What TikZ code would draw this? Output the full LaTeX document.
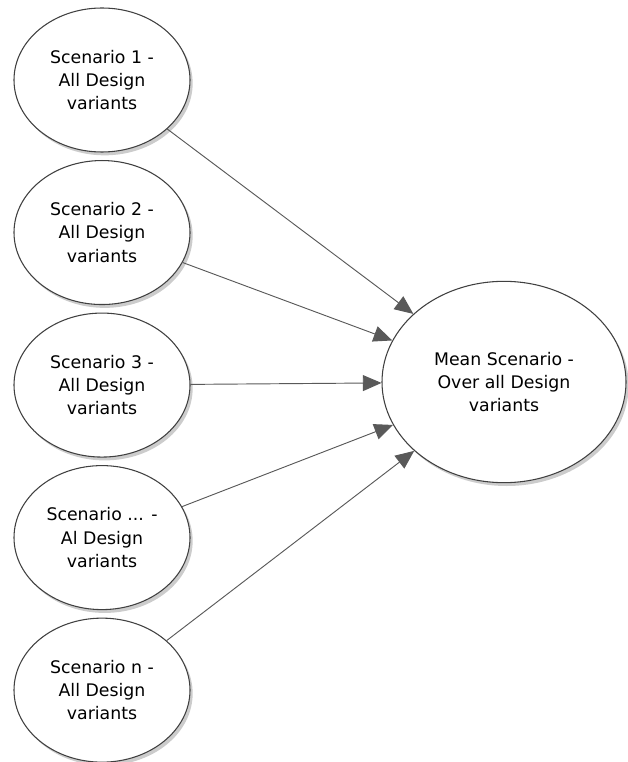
\documentclass[tikz,border=0pt]{standalone}
\usepackage{fontspec}
\setmainfont{DejaVu Sans}
\usetikzlibrary{shapes.geometric, arrows.meta, positioning, shadows}
\tikzset{
    scenario/.style={ellipse, minimum width=132pt, minimum height=108pt, inner sep=0pt, draw=black!75, line width=0.8pt, fill=white, text centered, align=center, font=\fontsize{13}{17.5}\selectfont, drop shadow={shadow xshift=2pt, shadow yshift=-2.5pt, opacity=0.4}},
    mean/.style={scenario, minimum width=183pt, minimum height=151pt},
    arrow/.style={draw=black!65, line width=0.7pt, -{Triangle[length=14pt, width=12pt]}}
}
\begin{document}
\begin{tikzpicture}[x=0.75pt, y=-0.75pt, node distance=114.4pt]
\useasboundingbox (0,0) rectangle (627,762);

% Nodes
\node (sc1) [scenario] at (102,80) {Scenario 1 -\\All Design\\variants};
\node (sc2) [scenario, below of=sc1] {Scenario 2 -\\All Design\\variants};
\node (sc3) [scenario, below of=sc2] {Scenario 3 -\\All Design\\variants};
\node (sc4) [scenario, below of=sc3] {Scenario ... -\\Al Design\\variants};
\node (scn) [scenario, below of=sc4] {Scenario n -\\All Design\\variants};
\node (mean) [mean] at (504,382) {Mean Scenario -\\Over all Design\\variants};

% Arrows
\draw [arrow] (sc1) -- (mean);
\draw [arrow] (sc2) -- (mean);
\draw [arrow] (sc3) -- (mean);
\draw [arrow] (sc4) -- (mean);
\draw [arrow] (scn) -- (mean);

\end{tikzpicture}
\end{document}
